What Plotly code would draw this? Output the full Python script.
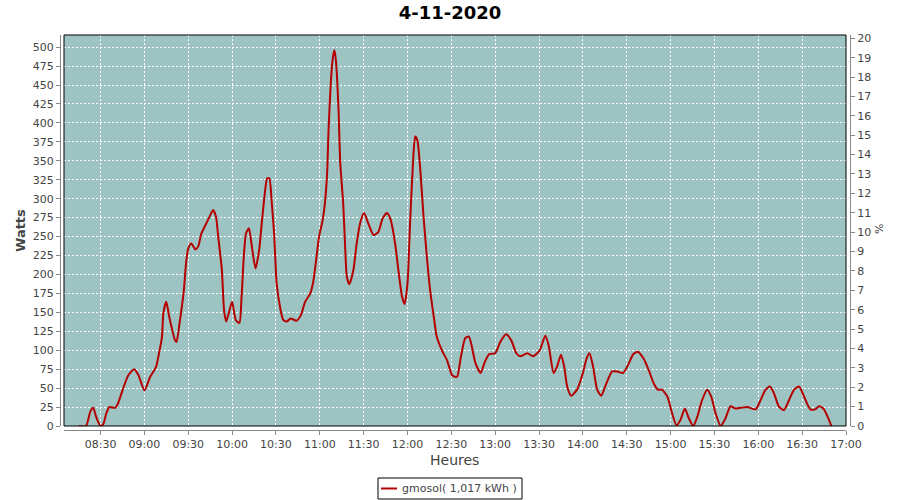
import plotly.graph_objects as go

DAY = "2020-11-04"
TITLE = "4-11-2020"
SERIES_NAME = "gmosol( 1,017 kWh )"

times = [
    "08:15:00", "08:20:00", "08:23:00", "08:25:00", "08:27:00", "08:30:00", "08:32:00", "08:34:00",
    "08:36:00", "08:40:00", "08:42:00", "08:45:00", "08:49:00", "08:53:00", "08:56:00", "09:00:00",
    "09:04:00", "09:08:00", "09:10:00", "09:12:00", "09:13:00", "09:15:00", "09:17:00", "09:21:00",
    "09:22:00", "09:24:00", "09:27:00", "09:28:30", "09:30:00", "09:32:00", "09:35:00", "09:37:00",
    "09:39:00", "09:43:00", "09:45:00", "09:47:00", "09:49:00", "09:50:30", "09:53:00", "09:54:30",
    "09:56:00", "09:58:00", "10:00:00", "10:02:30", "10:05:00", "10:06:30", "10:08:00", "10:09:30",
    "10:11:30", "10:13:30", "10:16:00", "10:18:30", "10:20:30", "10:22:30", "10:24:00", "10:25:30",
    "10:27:00", "10:28:45", "10:30:30", "10:33:00", "10:35:00", "10:37:30", "10:40:00", "10:44:00",
    "10:47:00", "10:50:00", "10:53:30", "10:55:30", "10:57:30", "10:59:30", "11:02:00", "11:03:30",
    "11:05:00", "11:06:00", "11:07:30", "11:09:00", "11:10:00", "11:11:00", "11:12:45", "11:14:00",
    "11:16:00", "11:17:15", "11:18:30", "11:20:15", "11:23:00", "11:25:15", "11:27:30", "11:30:15",
    "11:33:15", "11:36:45", "11:40:00", "11:43:00", "11:46:00", "11:48:30", "11:51:30", "11:53:45",
    "11:56:15", "11:58:00", "12:00:00", "12:01:45", "12:03:45", "12:05:15", "12:06:45", "12:08:45",
    "12:11:00", "12:13:15", "12:15:30", "12:18:00", "12:20:00", "12:23:30", "12:27:00", "12:30:30",
    "12:32:30", "12:34:00", "12:36:30", "12:39:30", "12:42:00", "12:44:00", "12:46:30", "12:50:00",
    "12:53:00", "12:56:00", "13:00:00", "13:03:30", "13:07:30", "13:11:00", "13:14:30", "13:17:00",
    "13:22:00", "13:26:00", "13:30:30", "13:34:15", "13:36:30", "13:40:00", "13:42:15", "13:45:00",
    "13:47:15", "13:49:15", "13:52:00", "13:56:00", "14:00:00", "14:02:30", "14:04:30", "14:07:00",
    "14:09:45", "14:12:30", "14:16:00", "14:20:00", "14:23:30", "14:27:30", "14:31:30", "14:34:30",
    "14:37:30", "14:41:30", "14:45:00", "14:48:30", "14:51:15", "14:54:00", "14:57:45", "15:01:00",
    "15:04:00", "15:06:45", "15:09:45", "15:12:30", "15:15:30", "15:18:15", "15:21:30", "15:25:00",
    "15:27:45", "15:30:45", "15:34:15", "15:37:30", "15:41:00", "15:44:30", "15:48:00", "15:52:30",
    "15:58:15", "16:01:30", "16:05:00", "16:08:00", "16:10:45", "16:14:00", "16:17:30", "16:21:00",
    "16:24:30", "16:28:00", "16:31:15", "16:35:30", "16:38:45", "16:41:30", "16:44:30", "16:47:30",
    "16:50:00",
]

watts = [
    0, 0, 19, 24, 12, 0, 3, 17,
    25, 24, 30, 47, 67, 75, 67, 47,
    65, 78, 96, 117, 149, 164, 144, 113,
    111, 135, 179, 215, 234, 241, 233, 238,
    254, 270, 278, 285, 276, 250, 206, 153,
    138, 151, 164, 140, 136, 171, 223, 254,
    261, 237, 208, 232, 272, 309, 327, 327,
    298, 254, 188, 155, 140, 138, 142, 139,
    146, 164, 175, 190, 219, 250, 272, 294,
    333, 391, 452, 487, 496, 483, 421, 347,
    294, 241, 197, 187, 206, 241, 267, 281,
    267, 252, 256, 274, 281, 272, 241, 206,
    171, 161, 188, 267, 347, 382, 377, 338,
    276, 223, 179, 144, 118, 100, 87, 67,
    65, 65, 91, 116, 118, 105, 83, 70,
    85, 95, 96, 111, 121, 113, 96, 92,
    96, 92, 100, 119, 107, 70, 78, 94,
    78, 52, 40, 48, 70, 89, 96, 78,
    48, 40, 56, 72, 72, 70, 83, 95,
    98, 89, 74, 56, 48, 48, 39, 17,
    1, 8, 23, 10, 0, 12, 34, 48,
    39, 17, 0, 10, 26, 23, 24, 25,
    22, 34, 48, 52, 43, 26, 21, 34,
    48, 52, 39, 22, 22, 26, 23, 12,
    0,
]

left_ticks = list(range(0, 501, 25))
right_ticks = list(range(0, 21))
x_start, x_end = "08:05:00", "17:00:00"
x_first_tick = "08:30:00"

x = [f"{DAY} {t}" for t in times]

W, H = 900, 500
ML, MR, MT, MB = 60, 50, 35, 70
PW, PH = W - ML - MR, H - MT - MB
OFF = 4
GRID = "#ffffff"
AXC = "#888888"
TXT = "#444444"
FONT = "DejaVu Sans"

fig = go.Figure()
fig.add_trace(go.Scatter(
    x=x, y=watts, mode="lines", name=SERIES_NAME,
    line=dict(color="#b40000", width=2, shape="spline", smoothing=0.6),
    showlegend=False,
))
# anchor trace so the right axis is drawn
fig.add_trace(go.Scatter(x=[x[0]], y=[0], yaxis="y2", mode="lines",
                         showlegend=False, hoverinfo="skip", line=dict(width=0)))

fig.update_layout(
    width=W, height=H,
    margin=dict(l=ML, r=MR, t=MT, b=MB, autoexpand=False),
    paper_bgcolor="white",
    plot_bgcolor="#9ec3c3",
    font=dict(family=FONT, size=11, color=TXT),
    title=dict(text=f"<b>{TITLE}</b>", x=0.5, xanchor="center", xref="container",
               y=1 - 13 / H, yanchor="middle", font=dict(size=18, color="black", family=FONT)),
    xaxis=dict(
        type="date", domain=[OFF / PW, 1 - OFF / PW],
        anchor="free", position=0, automargin=False,
        range=[f"{DAY} {x_start}", f"{DAY} {x_end}"],
        tick0=f"{DAY} {x_first_tick}", dtick=30 * 60 * 1000, tickformat="%H:%M",
        showgrid=True, gridcolor=GRID, gridwidth=1, griddash="2px,2px",
        showline=True, linecolor=AXC, linewidth=1,
        ticks="outside", ticklen=4, tickcolor=AXC,
        tickfont=dict(size=11, color=TXT), zeroline=False,
    ),
    yaxis=dict(
        domain=[OFF / PH, 1], anchor="free", position=0, automargin=False,
        range=[0, 516], tickvals=left_ticks,
        showgrid=True, gridcolor=GRID, gridwidth=1, griddash="2px,2px",
        showline=True, linecolor=AXC, linewidth=1,
        ticks="outside", ticklen=4, tickcolor=AXC,
        tickfont=dict(size=11, color=TXT), zeroline=False,
    ),
    yaxis2=dict(
        overlaying="y", side="right", anchor="free", position=1, automargin=False,
        range=[0, 20.17], tickvals=right_ticks,
        showgrid=False, showline=True, linecolor=AXC, linewidth=1,
        ticks="outside", ticklen=4, tickcolor=AXC,
        tickfont=dict(size=11, color=TXT), zeroline=False,
    ),
)

# plot-area border
fig.add_shape(type="rect", xref="x domain", yref="y domain", x0=0, x1=1, y0=0, y1=1,
              line=dict(color="black", width=1), layer="above")

def px(v):
    return (v - ML) / PW

def py(v):
    return (H - MB - v) / PH

# axis titles
fig.add_annotation(text="<b>Watts</b>", xref="paper", yref="paper", x=px(20), y=py(231),
                   xanchor="center", yanchor="middle",
                   textangle=-90, showarrow=False, font=dict(size=13, color=TXT))
fig.add_annotation(text="Heures", xref="paper", yref="paper", x=px(454), y=py(460),
                   xanchor="center", yanchor="middle",
                   showarrow=False, font=dict(size=14, color=TXT))
fig.add_annotation(text="%", xref="paper", yref="paper", x=px(880), y=py(229),
                   xanchor="center", yanchor="middle",
                   textangle=-90, showarrow=False, font=dict(size=11, color=TXT))

# legend box
fig.add_shape(type="rect", xref="paper", yref="paper", x0=px(378), x1=px(522), y0=py(499), y1=py(478),
              line=dict(color="black", width=1), fillcolor="white")
fig.add_shape(type="line", xref="paper", yref="paper", x0=px(381), x1=px(397), y0=py(488.5), y1=py(488.5),
              line=dict(color="#b40000", width=2))
fig.add_annotation(text=SERIES_NAME, xref="paper", yref="paper", x=px(400), y=py(488.5),
                   xanchor="left", yanchor="middle", showarrow=False, font=dict(size=11, color=TXT))

fig.write_html("out.html", config={"displayModeBar": False},
               post_script="document.body.style.margin='0';document.body.style.overflow='hidden';")
